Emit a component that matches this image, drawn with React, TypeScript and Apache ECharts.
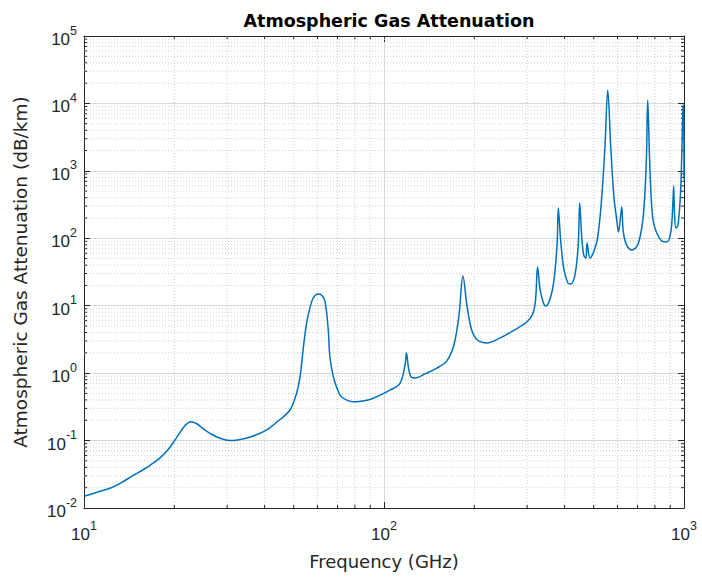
import React, { useEffect, useRef } from "react";
import * as echarts from "echarts";

// Frequency (GHz) and attenuation (dB/km)
const FREQ_GHZ = [
  10, 11, 12.2, 13.2, 14.6, 15.6, 16.6, 17.8, 18.9, 19.8, 20.9, 21.7, 22.7, 23.7, 25, 26.3,
  28.4, 30.7, 32.5, 34.4, 36.8, 39.2, 41.5, 45,
  48.6, 51.1, 52.5, 53.9, 55.2, 57.4, 59, 60.4, 62, 63.6, 65.2, 66, 67.8, 69.7, 72.1,
  79, 88.4, 92.1, 104.7, 113, 117.5, 118.8, 120.7, 123.3, 127.3, 136.6, 150, 161.8, 171,
  177.8, 183.3, 188.9, 196, 205, 220, 243, 272, 299, 313, 320, 325, 331.5, 340, 346,
  355, 365, 372, 378, 381, 388, 397, 410, 419, 433, 444, 449, 457, 464, 471, 475, 486,
  500, 515, 531, 545, 557, 570, 584, 597, 605, 620, 627, 642, 670, 703, 732, 749, 757,
  768, 780, 795, 837, 876, 905, 919, 924, 930, 940, 955, 973, 984, 992, 997, 1000,
];
const ATTEN_DB_KM = [
  0.0149, 0.017, 0.0196, 0.0232, 0.0305, 0.036, 0.043, 0.054, 0.07, 0.092, 0.132, 0.166, 0.19, 0.179, 0.149, 0.128,
  0.108, 0.1, 0.102, 0.107, 0.118, 0.132, 0.153, 0.205,
  0.284, 0.5, 0.885, 2.47, 5.48, 11.5, 14.3, 14.9, 14.3, 11.5, 4.36, 1.75, 0.885, 0.6, 0.446,
  0.377, 0.4, 0.424, 0.56, 0.706, 1.32, 1.99, 1.2, 0.87, 0.85, 0.97, 1.19, 1.51, 2.61,
  7.28, 27.6, 10.3, 4.36, 3.1, 2.8, 3.3, 4.36, 5.73, 7.5, 12.2, 37.5, 17.1, 11, 9.9,
  11.5, 18, 35, 90, 281, 94, 36.3, 21.7, 21, 28.5, 79.4, 334, 94, 54.6, 51, 85, 51,
  63, 100, 370, 2260, 15800, 2260, 408, 186, 124, 290, 130, 82, 67, 82, 221, 1450, 11200,
  1450, 312, 157, 94, 88, 130, 370, 596, 221, 142, 157, 437, 2040, 8500, 9500, 750,
];

const X_MIN = 10;
const X_MAX = 1000;
const Y_MIN = 0.01;
const Y_MAX = 100000;
const MINOR_MULTIPLES = [2, 3, 4, 5, 6, 7, 8, 9];
const X_DECADES = [10, 100];
const Y_DECADES = [0.01, 0.1, 1, 10, 100, 1000, 10000];

const TEXT = "#262626";
const AXIS = "#262626";
const TICK_FONT = "'Liberation Sans', Arial, sans-serif";
const LABEL_FONT = "'DejaVu Sans', sans-serif";

export default function App() {
  const ref = useRef<HTMLDivElement>(null);

  useEffect(() => {
    if (!ref.current) return;
    const chart = echarts.init(ref.current, null, { renderer: "svg" });

    const minorItems: number[][] = [];
    X_DECADES.forEach((d) => MINOR_MULTIPLES.forEach((m) => minorItems.push([d * m, 1, 0])));
    Y_DECADES.forEach((d) => MINOR_MULTIPLES.forEach((m) => minorItems.push([X_MIN, d * m, 1])));

    const expLabel = (v: number) => {
      const e = Math.round(Math.log10(v));
      return `{b|10}{s|${e}}`;
    };
    const rich = {
      b: { fontSize: 17, fontFamily: TICK_FONT, color: TEXT, lineHeight: 24, verticalAlign: "bottom" },
      s: { fontSize: 12.5, fontFamily: TICK_FONT, color: TEXT, lineHeight: 14, verticalAlign: "top" },
    };

    const baseAxis = {
      type: "log",
      logBase: 10,
      axisLine: { show: true, onZero: false, lineStyle: { color: AXIS, width: 1 } },
      axisTick: { show: true, inside: true, length: 6, lineStyle: { color: AXIS, width: 1 } },
      minorTick: { show: false },
      minorSplitLine: { show: false },
    };

    chart.setOption({
      animation: false,
      backgroundColor: "#ffffff",
      title: {
        text: "Atmospheric Gas Attenuation",
        left: 384,
        textAlign: "center",
        top: 7,
        textStyle: { fontFamily: LABEL_FONT, fontSize: 17.5, fontWeight: "bold", color: "#000000" },
      },
      grid: { left: 84, top: 36, width: 600, height: 472, containLabel: false },
      xAxis: [
        {
          ...baseAxis,
          min: X_MIN,
          max: X_MAX,
          position: "bottom",
          name: "Frequency (GHz)",
          nameLocation: "middle",
          nameGap: 44,
          nameTextStyle: { fontFamily: LABEL_FONT, fontSize: 18, color: TEXT },
          axisLabel: { show: true, margin: 11, formatter: expLabel, rich },
          splitLine: { show: true, lineStyle: { color: "#d9d9d9", width: 1 } },
        },
        {
          ...baseAxis,
          min: X_MIN,
          max: X_MAX,
          position: "top",
          axisLabel: { show: false },
          splitLine: { show: false },
        },
      ],
      yAxis: [
        {
          ...baseAxis,
          min: Y_MIN,
          max: Y_MAX,
          position: "left",
          name: "Atmospheric Gas Attenuation (dB/km)",
          nameLocation: "middle",
          nameGap: 54,
          nameTextStyle: { fontFamily: LABEL_FONT, fontSize: 18.5, color: TEXT },
          axisLabel: { show: true, margin: 7, formatter: expLabel, rich },
          splitLine: { show: true, lineStyle: { color: "#d9d9d9", width: 1 } },
        },
        {
          ...baseAxis,
          min: Y_MIN,
          max: Y_MAX,
          position: "right",
          axisLabel: { show: false },
          splitLine: { show: false },
        },
      ],
      series: [
        {
          type: "custom",
          xAxisIndex: 0,
          yAxisIndex: 0,
          silent: true,
          z: 1,
          encode: { x: 0, y: 1 },
          data: minorItems,
          renderItem: (_params: any, api: any) => {
            const kind = api.value(2);
            const dash = { stroke: "#cfcfcf", lineWidth: 1, lineDash: [1, 2] };
            const tick = { stroke: AXIS, lineWidth: 1 };
            if (kind === 0) {
              const v = api.value(0);
              const p1 = api.coord([v, Y_MIN]);
              const p2 = api.coord([v, Y_MAX]);
              return {
                type: "group",
                children: [
                  { type: "line", shape: { x1: p1[0], y1: p1[1], x2: p2[0], y2: p2[1] }, style: dash },
                  { type: "line", z2: 10, shape: { x1: p1[0], y1: p1[1], x2: p1[0], y2: p1[1] - 3 }, style: tick },
                  { type: "line", z2: 10, shape: { x1: p2[0], y1: p2[1], x2: p2[0], y2: p2[1] + 3 }, style: tick },
                ],
              };
            }
            const v = api.value(1);
            const p1 = api.coord([X_MIN, v]);
            const p2 = api.coord([X_MAX, v]);
            return {
              type: "group",
              children: [
                { type: "line", shape: { x1: p1[0], y1: p1[1], x2: p2[0], y2: p2[1] }, style: dash },
                { type: "line", z2: 10, shape: { x1: p1[0], y1: p1[1], x2: p1[0] + 3, y2: p1[1] }, style: tick },
                { type: "line", z2: 10, shape: { x1: p2[0], y1: p2[1], x2: p2[0] - 3, y2: p2[1] }, style: tick },
              ],
            };
          },
        },
        {
          type: "line",
          xAxisIndex: 0,
          yAxisIndex: 0,
          z: 3,
          showSymbol: false,
          symbol: "none",
          clip: true,
          smooth: 0.35,
          lineStyle: { color: "#0072BD", width: 1.5 },
          data: FREQ_GHZ.map((f, i) => [f, ATTEN_DB_KM[i]]),
        },
      ],
    });

    return () => chart.dispose();
  }, []);

  return (
    <div
      ref={ref}
      style={{ position: "absolute", left: 0, top: 0, width: 702, height: 577, background: "#fff" }}
    />
  );
}
